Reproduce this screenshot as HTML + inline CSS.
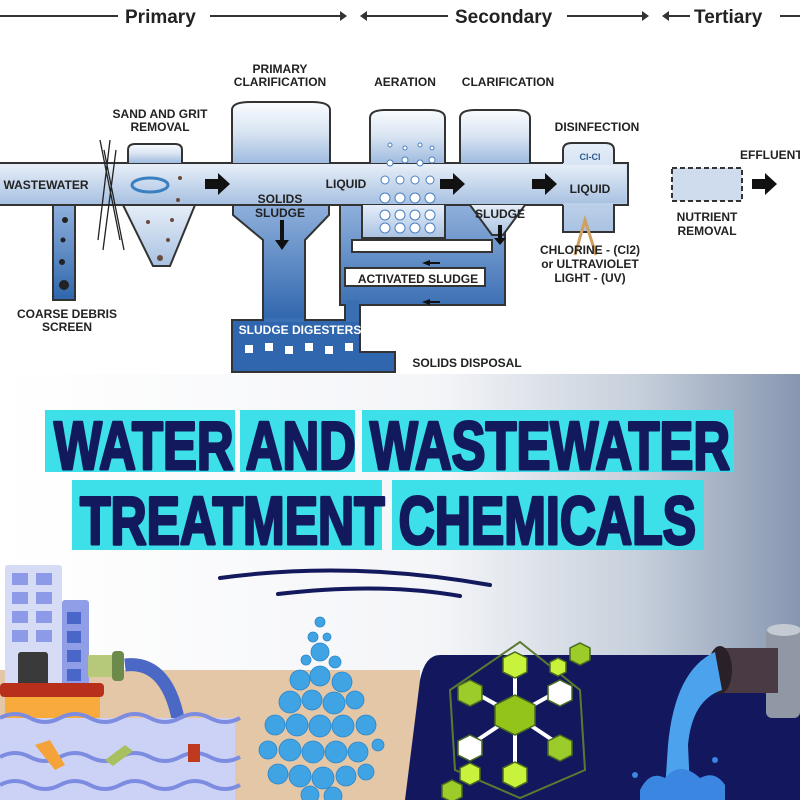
<!DOCTYPE html>
<html><head><meta charset="utf-8"><style>
body{margin:0;width:800px;height:800px;overflow:hidden;background:#fff}
svg{display:block}
</style></head><body>
<svg width="800" height="800" viewBox="0 0 800 800" xmlns="http://www.w3.org/2000/svg" font-family="Liberation Sans, sans-serif">
<defs>
<linearGradient id="pipe" x1="0" y1="0" x2="0" y2="1"><stop offset="0" stop-color="#e6eef8"/><stop offset="1" stop-color="#a9c2e2"/></linearGradient>
<linearGradient id="tank" x1="0" y1="0" x2="0" y2="1"><stop offset="0" stop-color="#fafcff"/><stop offset="0.5" stop-color="#d8e4f2"/><stop offset="1" stop-color="#9fbbe0"/></linearGradient>
<linearGradient id="sl" x1="0" y1="0" x2="0" y2="1"><stop offset="0" stop-color="#8fb0dc"/><stop offset="1" stop-color="#2f66ad"/></linearGradient>
<linearGradient id="bg" x1="0" y1="0" x2="1" y2="0"><stop offset="0" stop-color="#fff"/><stop offset="0.55" stop-color="#f4f5f8"/><stop offset="0.8" stop-color="#c6cfdb"/><stop offset="1" stop-color="#8796b0"/></linearGradient>
</defs>
<rect x="0" y="374" width="800" height="426" fill="url(#bg)"/>
<g font-size="19" font-weight="bold" fill="#222">
<line x1="0" y1="16" x2="118" y2="16" stroke="#333" stroke-width="2"/>
<text x="125" y="23">Primary</text>
<line x1="210" y1="16" x2="340" y2="16" stroke="#333" stroke-width="2"/><path d="M340 11 L347 16 L340 21Z" fill="#333"/>
<path d="M360 16 L367 11 L367 21Z" fill="#333"/><line x1="367" y1="16" x2="448" y2="16" stroke="#333" stroke-width="2"/>
<text x="455" y="23">Secondary</text>
<line x1="567" y1="16" x2="642" y2="16" stroke="#333" stroke-width="2"/><path d="M642 11 L649 16 L642 21Z" fill="#333"/>
<path d="M662 16 L669 11 L669 21Z" fill="#333"/><line x1="669" y1="16" x2="690" y2="16" stroke="#333" stroke-width="2"/>
<text x="694" y="23">Tertiary</text>
<line x1="780" y1="16" x2="800" y2="16" stroke="#333" stroke-width="2"/>
</g>
<g stroke="#333" stroke-width="2">
<!-- secondary sludge loop -->
<path d="M340 205 H505 V305 H360 V322 H345 V305 H340Z" fill="url(#sl)"/>
<rect x="352" y="240" width="140" height="12" fill="#fff"/>
<rect x="345" y="268" width="140" height="18" fill="#fff"/>
<!-- clarifier bottom -->
<polygon points="233,205 329,205 329,215 305,240 305,321 263,321 263,240 233,215" fill="url(#sl)"/>
<!-- digesters -->
<path d="M232 320 H360 V352 H395 V372 H232Z" fill="#2f66ad"/>
</g>
<rect x="264" y="318" width="40" height="4" fill="#3a70b4"/>
<rect x="346" y="300" width="13" height="22" fill="#3a6fb2"/>
<g stroke="#333" stroke-width="2">
<rect x="-2" y="163" width="630" height="42" fill="url(#pipe)"/>
<rect x="53" y="205" width="22" height="95" fill="url(#sl)"/>
<path d="M128 163 V150 Q128 144 135 144 H175 Q182 144 182 150 V163" fill="url(#tank)"/>
<path d="M123 205 L153 266 L170 266 L195 205Z" fill="url(#pipe)"/>
<path d="M232 163 V110 Q232 102 250 102 H312 Q330 102 330 110 V163" fill="url(#tank)"/>
<path d="M370 163 V118 Q370 110 385 110 H430 Q445 110 445 118 V163" fill="url(#tank)"/>
<path d="M362 205 V238 H445 V205" fill="url(#pipe)"/>
<path d="M460 163 V118 Q460 110 475 110 H515 Q530 110 530 118 V163" fill="url(#tank)"/>
<path d="M470 205 L492 235 H503 L525 205" fill="url(#pipe)"/>
<path d="M563 163 V150 Q563 143 572 143 H605 Q614 143 614 150 V163 H628 V205 H614 V232 H563 V205" fill="url(#pipe)"/>
<rect x="672" y="168" width="70" height="33" fill="#cfdcee" stroke-dasharray="5 3"/>
</g>
<rect x="0" y="165" width="626" height="38" fill="url(#pipe)"/>
<path d="M0 163 H128 M182 163 H232 M330 163 H370 M445 163 H460 M530 163 H563 M0 205 H53 M75 205 H123 M195 205 H233 M329 205 H362 M445 205 H470 M525 205 H563" stroke="#333" stroke-width="2"/>
<path d="M100 140 L120 240 M110 140 L98 240 M104 150 L124 250 M116 150 L103 250" stroke="#222" stroke-width="1.3"/>
<ellipse cx="150" cy="185" rx="18" ry="7" fill="none" stroke="#3a7fc0" stroke-width="3"/>
<g fill="#6a4a3a"><circle cx="180" cy="178" r="2"/><circle cx="178" cy="200" r="2"/><circle cx="172" cy="220" r="2"/><circle cx="148" cy="222" r="2"/><circle cx="168" cy="240" r="2"/><circle cx="160" cy="258" r="3"/></g>
<g fill="#222"><circle cx="65" cy="220" r="3"/><circle cx="63" cy="240" r="2.5"/><circle cx="62" cy="262" r="3"/><circle cx="64" cy="285" r="5"/></g>
<g fill="#fff" stroke="#4a80c0" stroke-width="1">
<circle cx="385" cy="180" r="4"/><circle cx="400" cy="180" r="4"/><circle cx="415" cy="180" r="4"/><circle cx="430" cy="180" r="4"/>
<circle cx="385" cy="198" r="5"/><circle cx="400" cy="198" r="5"/><circle cx="415" cy="198" r="5"/><circle cx="430" cy="198" r="5"/>
<circle cx="385" cy="215" r="5"/><circle cx="400" cy="215" r="5"/><circle cx="415" cy="215" r="5"/><circle cx="430" cy="215" r="5"/>
<circle cx="385" cy="228" r="5"/><circle cx="400" cy="228" r="5"/><circle cx="415" cy="228" r="5"/><circle cx="430" cy="228" r="5"/>
<circle cx="390" cy="163" r="3"/><circle cx="405" cy="160" r="3"/><circle cx="420" cy="163" r="3"/><circle cx="432" cy="160" r="3"/>
<circle cx="390" cy="145" r="2"/><circle cx="405" cy="148" r="2"/><circle cx="420" cy="145" r="2"/><circle cx="432" cy="148" r="2"/>
</g>
<path d="M575 255 L585 220 L596 255" fill="none" stroke="#d0a060" stroke-width="3"/>
<g fill="#111">
<path d="M205 179 H218 V173 L230 184 L218 195 V189 H205Z"/>
<path d="M440 179 H453 V173 L465 184 L453 195 V189 H440Z"/>
<path d="M532 179 H545 V173 L557 184 L545 195 V189 H532Z"/>
<path d="M752 179 H765 V173 L777 184 L765 195 V189 H752Z"/>
<path d="M280 220 V240 H275 L282 250 L289 240 H284 V220Z"/>
<path d="M498 225 V238 H494 L500 245 L506 238 H502 V225Z"/>
<path d="M430 260 L422 263 L430 266Z M430 262 H440 V264 H430Z"/>
<path d="M430 299 L422 302 L430 305Z M430 301 H440 V303 H430Z"/>
</g>
<g font-size="12" font-weight="bold" fill="#222" text-anchor="middle">
<text x="280" y="73">PRIMARY</text><text x="280" y="86">CLARIFICATION</text>
<text x="405" y="86">AERATION</text><text x="508" y="86">CLARIFICATION</text>
<text x="160" y="118">SAND AND GRIT</text><text x="160" y="131">REMOVAL</text>
<text x="597" y="131">DISINFECTION</text>
<text x="46" y="189">WASTEWATER</text>
<text x="280" y="203">SOLIDS</text><text x="280" y="217">SLUDGE</text>
<text x="346" y="188">LIQUID</text>
<text x="590" y="193">LIQUID</text>
<text x="590" y="160" font-size="9" fill="#2a5a90">Cl-Cl</text>
<text x="500" y="218">SLUDGE</text>
<text x="418" y="283">ACTIVATED SLUDGE</text>
<text x="67" y="318">COARSE DEBRIS</text><text x="67" y="331">SCREEN</text>
<text x="707" y="221">NUTRIENT</text><text x="707" y="235">REMOVAL</text>
<text x="590" y="254">CHLORINE - (Cl2)</text><text x="590" y="268">or ULTRAVIOLET</text><text x="590" y="282">LIGHT - (UV)</text>
<text x="467" y="367">SOLIDS DISPOSAL</text>
<text x="740" y="159" text-anchor="start">EFFLUENT</text>
<text x="300" y="334" fill="#fff">SLUDGE DIGESTERS</text>
</g>
<g fill="#fff"><rect x="245" y="345" width="8" height="8"/><rect x="265" y="343" width="8" height="8"/><rect x="285" y="346" width="8" height="8"/><rect x="305" y="343" width="8" height="8"/><rect x="325" y="346" width="8" height="8"/><rect x="345" y="343" width="8" height="8"/></g>
<g fill="#3ddfe8">
<rect x="45" y="410" width="190" height="62"/><rect x="240" y="410" width="115" height="62"/><rect x="362" y="410" width="372" height="62"/>
<rect x="72" y="480" width="310" height="70"/><rect x="392" y="480" width="312" height="70"/>
</g>
<g font-family="Liberation Sans Narrow, Liberation Sans, sans-serif" font-weight="bold" font-size="68" fill="#12195c" stroke="#12195c" stroke-width="3" stroke-linejoin="round">
<text x="54" y="469" textLength="676" lengthAdjust="spacingAndGlyphs">WATER AND WASTEWATER</text>
<text x="80" y="544" textLength="616" lengthAdjust="spacingAndGlyphs">TREATMENT CHEMICALS</text>
</g>
<path d="M220 578 Q350 560 490 585 M278 594 Q380 582 460 596" stroke="#12195c" stroke-width="4" fill="none" stroke-linecap="round"/>
<rect x="0" y="670" width="420" height="130" fill="#e3c7a7"/>
<path d="M440 655 H800 V800 H405 L420 680 Q425 655 440 655Z" fill="#13185e"/>
<rect x="5" y="565" width="57" height="125" rx="3" fill="#d6dcf6"/>
<rect x="62" y="600" width="27" height="90" rx="3" fill="#8f9ee6"/>
<g fill="#8d9ae8"><rect x="12" y="573" width="16" height="12"/><rect x="36" y="573" width="16" height="12"/><rect x="12" y="592" width="16" height="12"/><rect x="36" y="592" width="16" height="12"/><rect x="12" y="611" width="16" height="12"/><rect x="36" y="611" width="16" height="12"/><rect x="12" y="630" width="16" height="12"/><rect x="36" y="630" width="16" height="12"/></g>
<g fill="#4a66c8"><rect x="67" y="612" width="14" height="12"/><rect x="67" y="631" width="14" height="12"/><rect x="67" y="650" width="14" height="12"/><rect x="67" y="669" width="14" height="12"/></g>
<rect x="18" y="652" width="30" height="38" rx="3" fill="#3a3a3a"/>
<path d="M125 665 Q170 660 180 730" stroke="#4a68c4" stroke-width="13" fill="none"/>
<rect x="88" y="655" width="30" height="22" fill="#b6c97a"/><rect x="112" y="651" width="12" height="30" rx="4" fill="#6c8a4a"/>
<rect x="5" y="695" width="95" height="40" fill="#f8aa3c"/>
<rect x="0" y="683" width="104" height="14" rx="4" fill="#b8301c"/>
<rect x="0" y="718" width="235" height="82" fill="#ccd2f6"/>
<path d="M0 718 q15 -8 30 0 t30 0 t30 0 t30 0 t30 0 t30 0 t30 0 t30 0 M0 757 q15 -8 30 0 t30 0 t30 0 t30 0 t30 0 t30 0 t30 0 t30 0 M0 785 q15 -8 30 0 t30 0 t30 0 t30 0 t30 0 t30 0 t30 0 t30 0" stroke="#7c8ce0" stroke-width="4" fill="none"/>
<path d="M35 745 l15 -5 l15 25 l-10 5Z" fill="#f4a23a"/><path d="M105 760 l20 -15 l8 6 l-20 15Z" fill="#a9c060"/><path d="M188 744 h12 v18 h-12Z" fill="#c03a20"/>
<g fill="#3fa3e4" stroke="#2d86c8" stroke-width="0.8">
<circle cx="320" cy="622" r="5"/><circle cx="313" cy="637" r="5"/><circle cx="327" cy="637" r="4"/><circle cx="320" cy="652" r="9"/><circle cx="306" cy="660" r="5"/><circle cx="335" cy="662" r="6"/>
<circle cx="300" cy="680" r="10"/><circle cx="320" cy="676" r="10"/><circle cx="342" cy="682" r="10"/><circle cx="290" cy="702" r="11"/><circle cx="312" cy="700" r="10"/><circle cx="334" cy="703" r="11"/><circle cx="355" cy="700" r="9"/>
<circle cx="275" cy="725" r="10"/><circle cx="297" cy="725" r="11"/><circle cx="320" cy="726" r="11"/><circle cx="343" cy="726" r="11"/><circle cx="366" cy="725" r="10"/>
<circle cx="268" cy="750" r="9"/><circle cx="290" cy="750" r="11"/><circle cx="313" cy="752" r="11"/><circle cx="336" cy="752" r="11"/><circle cx="358" cy="752" r="10"/><circle cx="378" cy="745" r="6"/>
<circle cx="278" cy="774" r="10"/><circle cx="300" cy="776" r="11"/><circle cx="323" cy="778" r="11"/><circle cx="346" cy="776" r="10"/><circle cx="366" cy="772" r="8"/><circle cx="310" cy="795" r="9"/><circle cx="333" cy="796" r="9"/>
</g>
<path d="M520 642 L580 690 L585 770 L520 798 L455 770 L450 690Z" fill="none" stroke="#5a7a30" stroke-width="2"/>
<g stroke="#fff" stroke-width="4"><line x1="515" y1="715" x2="515" y2="665"/><line x1="515" y1="715" x2="515" y2="770"/><line x1="515" y1="715" x2="470" y2="690"/><line x1="515" y1="715" x2="560" y2="690"/><line x1="515" y1="715" x2="470" y2="745"/><line x1="515" y1="715" x2="560" y2="745"/></g>
<g stroke="#4a6a20" stroke-width="1.5">
<polygon points="515,695 535,705 535,725 515,735 495,725 495,705" fill="#93c41a"/>
<polygon points="515,652 527,658 527,672 515,678 503,672 503,658" fill="#c8f23c"/>
<polygon points="515,762 527,768 527,782 515,788 503,782 503,768" fill="#c8f23c"/>
<polygon points="470,680 482,686 482,700 470,706 458,700 458,686" fill="#9ccc2a"/>
<polygon points="560,680 572,686 572,700 560,706 548,700 548,686" fill="#fff"/>
<polygon points="470,735 482,741 482,755 470,761 458,755 458,741" fill="#fff"/>
<polygon points="560,735 572,741 572,755 560,761 548,755 548,741" fill="#9ccc2a"/>
<polygon points="580,643 590,648 590,660 580,665 570,660 570,648" fill="#9ccc2a"/>
<polygon points="558,658 566,662 566,672 558,676 550,672 550,662" fill="#c8f23c"/>
<polygon points="470,763 480,768 480,780 470,785 460,780 460,768" fill="#c8f23c"/>
<polygon points="452,780 462,785 462,797 452,802 442,797 442,785" fill="#9ccc2a"/>
</g>
<rect x="766" y="628" width="34" height="90" rx="6" fill="#8f98a4"/>
<ellipse cx="784" cy="630" rx="17" ry="6" fill="#c4cad2"/>
<rect x="718" y="648" width="60" height="45" fill="#4a3a44"/>
<ellipse cx="720" cy="670" rx="12" ry="24" fill="#2a2028"/>
<path d="M715 652 Q675 670 668 745 L665 790 L690 790 L688 745 Q692 700 722 690Z" fill="#4aa3ec"/>
<path d="M640 790 Q650 770 665 778 Q680 760 700 778 Q715 770 725 785 L725 800 H640Z" fill="#3a86e0"/>
<circle cx="635" cy="775" r="3" fill="#3a86e0"/><circle cx="715" cy="760" r="3" fill="#3a86e0"/>
</svg>
</body></html>
